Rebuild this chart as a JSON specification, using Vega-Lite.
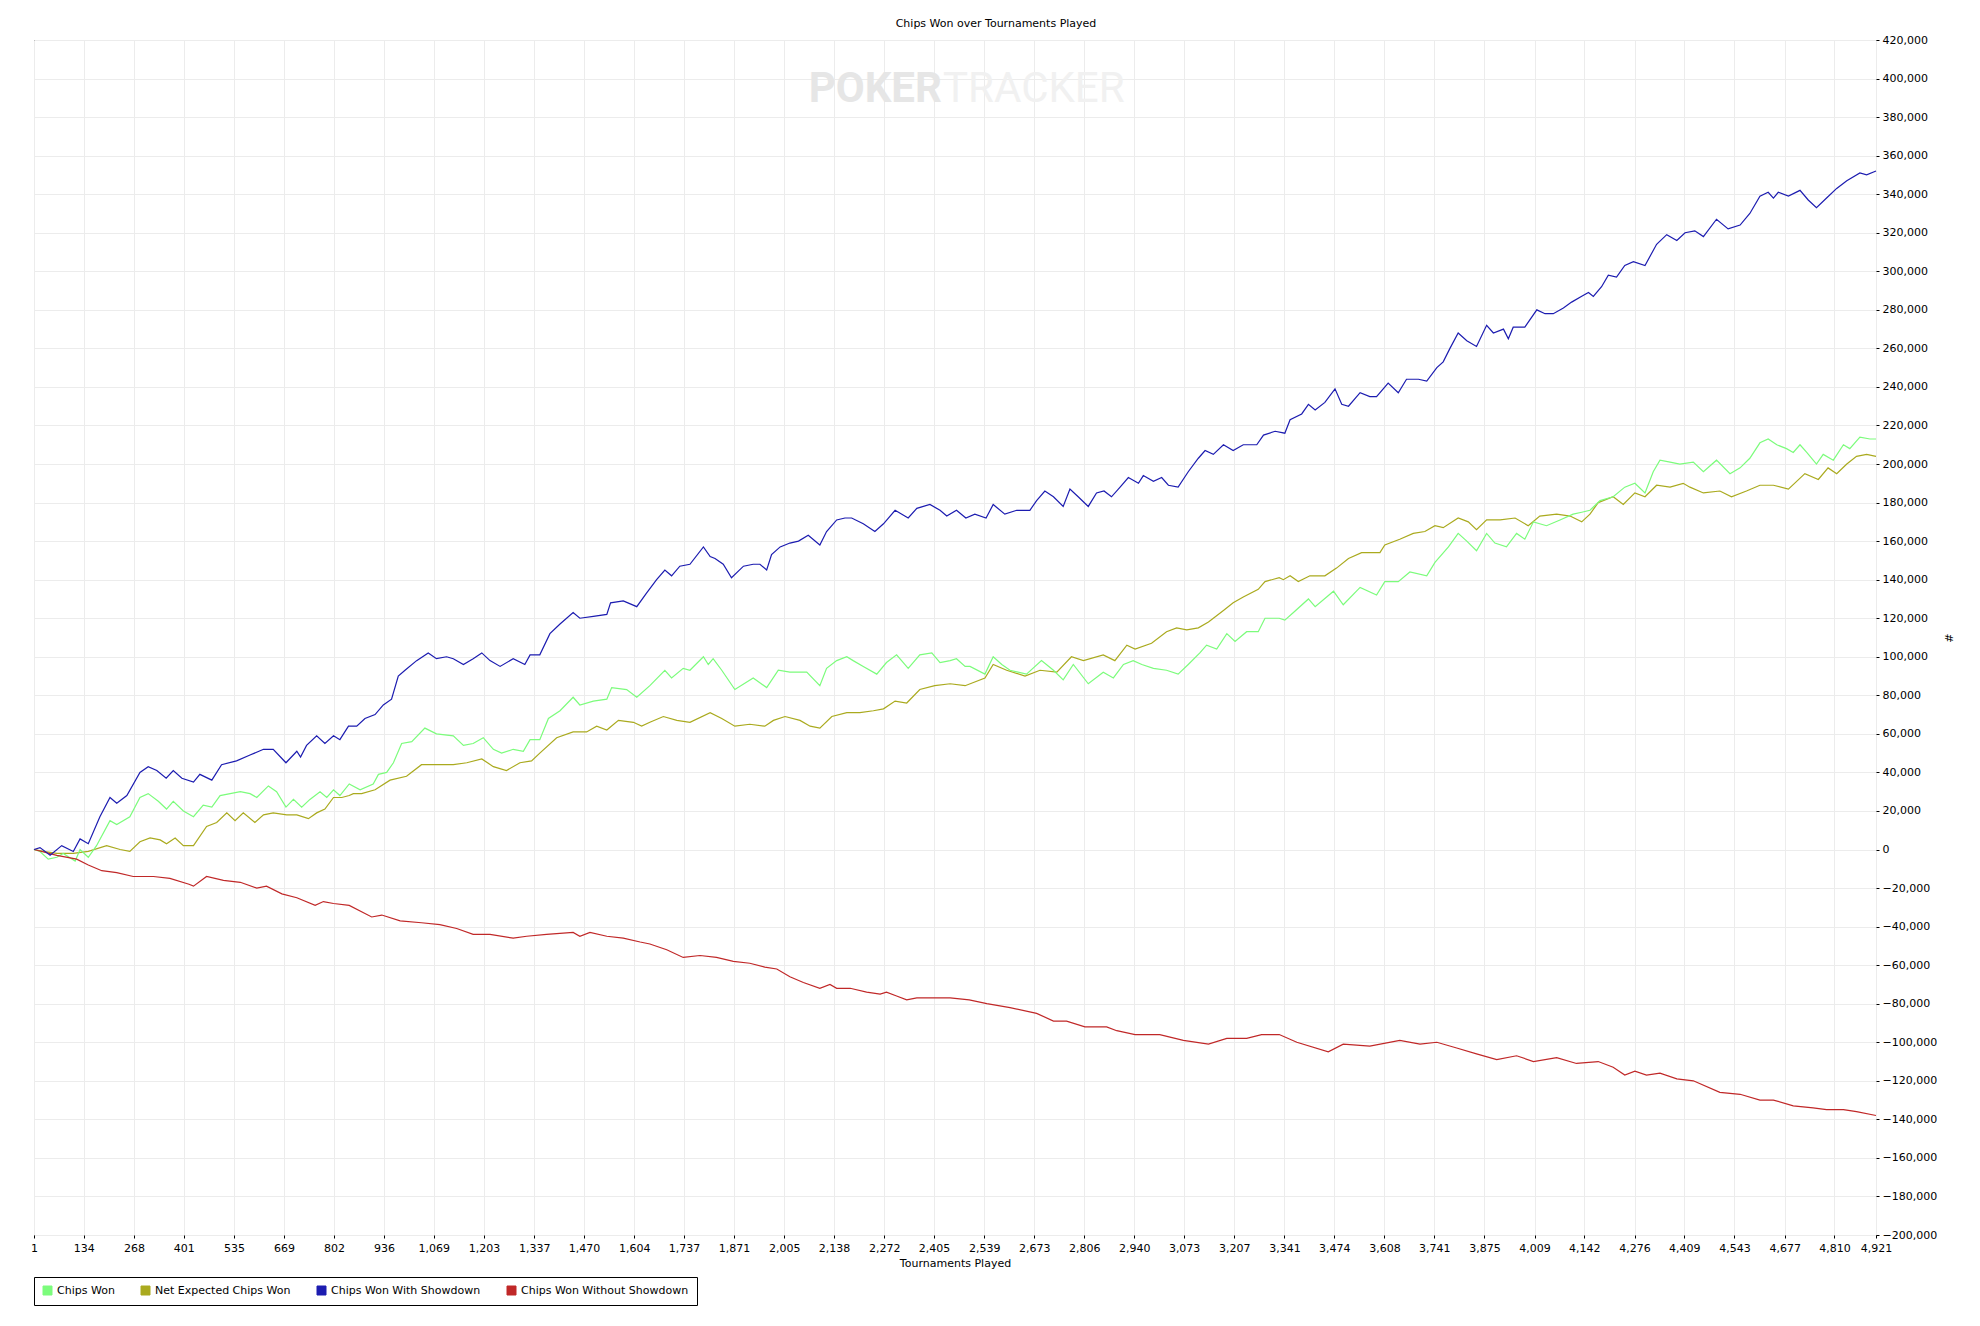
{
"$schema": "https://vega.github.io/schema/vega-lite/v6.json",
"width": 1842,
"height": 1195,
"autosize": {"type": "none"},
"padding": {"left": 34, "top": 40, "right": 104, "bottom": 91},
"background": "white",
"title": {"text": "Chips Won over Tournaments Played", "fontSize": 11, "font": "DejaVu Sans", "fontWeight": "normal", "color": "black", "offset": 5, "dx": 41},
"config": {"view": {"stroke": "black", "strokeWidth": 1}, "font": "DejaVu Sans"},
"encoding": {
 "x": {"field": "t", "type": "quantitative", "title": "Tournaments Played",
  "scale": {"domain": [1, 4921], "nice": false, "zero": false},
  "axis": {"values": [1,134,268,401,535,669,802,936,1069,1203,1337,1470,1604,1737,1871,2005,2138,2272,2405,2539,2673,2806,2940,3073,3207,3341,3474,3608,3741,3875,4009,4142,4276,4409,4543,4677,4810,4921],
   "format": ",d", "labelFontSize": 11, "labelColor": "black", "labelFont": "DejaVu Sans", "tickColor": "black", "tickSize": 3, "labelPadding": 4, "domain": false, "gridColor": "#ececec", "gridWidth": 1, "titleFontSize": 11, "titleFont": "DejaVu Sans", "titleFontWeight": "normal", "titleColor": "black", "titlePadding": 4, "labelFlush": false, "labelOverlap": false, "labelBound": false}},
 "y": {"field": "v", "type": "quantitative", "title": "#",
  "scale": {"domain": [-200000, 420000], "nice": false, "zero": false},
  "axis": {"orient": "right", "values": [-200000,-180000,-160000,-140000,-120000,-100000,-80000,-60000,-40000,-20000,0,20000,40000,60000,80000,100000,120000,140000,160000,180000,200000,220000,240000,260000,280000,300000,320000,340000,360000,380000,400000,420000],
   "format": ",d", "labelFontSize": 11, "labelColor": "black", "labelFont": "DejaVu Sans", "tickColor": "black", "tickSize": 3, "labelPadding": 3, "domain": false, "gridColor": "#ececec", "gridWidth": 1, "titleFontSize": 11, "titleFont": "DejaVu Sans", "titleFontWeight": "normal", "titleColor": "black", "titleAngle": 90, "titlePadding": 6, "labelFlush": false, "labelOverlap": false, "labelBound": false}}
},
"layer": [
 {"data": {"values": [{"t": 2426, "v": 394600, "label": "POKER"}]},
  "mark": {"type": "text", "align": "right", "baseline": "middle", "font": "Roboto", "fontWeight": "bold", "fontSize": 42, "color": "#e6e6e6"},
  "encoding": {"text": {"field": "label"}}},
 {"data": {"values": [{"t": 2429, "v": 394600, "label": "TRACKER"}]},
  "mark": {"type": "text", "align": "left", "baseline": "middle", "font": "Roboto", "fontWeight": "normal", "fontSize": 42, "color": "#f1f1f1"},
  "encoding": {"text": {"field": "label"}}},
 {"data": {"values": [{"v": 0}]},
  "mark": {"type": "rule", "color": "black", "strokeWidth": 1},
  "encoding": {"x": {"datum": 1}, "x2": {"datum": 4921}}},
 {"data": {"values": [{"t":1,"v":0},{"t":26,"v":-1000},{"t":62,"v":-2000},{"t":106,"v":-2000},{"t":146,"v":-1000},{"t":195,"v":2000},{"t":231,"v":0},{"t":257,"v":-1000},{"t":284,"v":4000},{"t":311,"v":6000},{"t":338,"v":5000},{"t":355,"v":3000},{"t":378,"v":6000},{"t":400,"v":2000},{"t":427,"v":2000},{"t":462,"v":12000},{"t":489,"v":14000},{"t":516,"v":19000},{"t":538,"v":15000},{"t":560,"v":19000},{"t":591,"v":14000},{"t":614,"v":18000},{"t":640,"v":19000},{"t":676,"v":18000},{"t":703,"v":18000},{"t":734,"v":16000},{"t":756,"v":19000},{"t":778,"v":21000},{"t":801,"v":27000},{"t":823,"v":27000},{"t":843,"v":28000},{"t":854,"v":29000},{"t":876,"v":29000},{"t":912,"v":31000},{"t":952,"v":36000},{"t":996,"v":38000},{"t":1036,"v":44000},{"t":1076,"v":44000},{"t":1121,"v":44000},{"t":1157,"v":45000},{"t":1197,"v":47000},{"t":1228,"v":43000},{"t":1263,"v":41000},{"t":1299,"v":45000},{"t":1330,"v":46000},{"t":1352,"v":50000},{"t":1397,"v":58000},{"t":1441,"v":61000},{"t":1477,"v":61000},{"t":1504,"v":64000},{"t":1531,"v":62000},{"t":1562,"v":67000},{"t":1602,"v":66000},{"t":1624,"v":64000},{"t":1646,"v":66000},{"t":1682,"v":69000},{"t":1718,"v":67000},{"t":1753,"v":66000},{"t":1807,"v":71000},{"t":1838,"v":68000},{"t":1873,"v":64000},{"t":1913,"v":65000},{"t":1953,"v":64000},{"t":1976,"v":67000},{"t":2007,"v":69000},{"t":2047,"v":67000},{"t":2074,"v":64000},{"t":2100,"v":63000},{"t":2132,"v":69000},{"t":2172,"v":71000},{"t":2207,"v":71000},{"t":2243,"v":72000},{"t":2270,"v":73000},{"t":2301,"v":77000},{"t":2332,"v":76000},{"t":2367,"v":83000},{"t":2407,"v":85000},{"t":2448,"v":86000},{"t":2488,"v":85000},{"t":2541,"v":89000},{"t":2563,"v":96000},{"t":2599,"v":93000},{"t":2648,"v":90000},{"t":2688,"v":93000},{"t":2733,"v":92000},{"t":2772,"v":100000},{"t":2804,"v":98000},{"t":2857,"v":101000},{"t":2888,"v":98000},{"t":2920,"v":106000},{"t":2942,"v":104000},{"t":2986,"v":107000},{"t":3026,"v":113000},{"t":3053,"v":115000},{"t":3080,"v":114000},{"t":3111,"v":115000},{"t":3138,"v":118000},{"t":3178,"v":124000},{"t":3204,"v":128000},{"t":3231,"v":131000},{"t":3271,"v":135000},{"t":3289,"v":139000},{"t":3327,"v":141000},{"t":3338,"v":140000},{"t":3356,"v":142000},{"t":3378,"v":139000},{"t":3409,"v":142000},{"t":3449,"v":142000},{"t":3480,"v":146000},{"t":3512,"v":151000},{"t":3547,"v":154000},{"t":3596,"v":154000},{"t":3609,"v":158000},{"t":3649,"v":161000},{"t":3685,"v":164000},{"t":3716,"v":165000},{"t":3743,"v":168000},{"t":3765,"v":167000},{"t":3805,"v":172000},{"t":3832,"v":170000},{"t":3854,"v":166000},{"t":3881,"v":171000},{"t":3917,"v":171000},{"t":3957,"v":172000},{"t":3992,"v":168000},{"t":4023,"v":173000},{"t":4068,"v":174000},{"t":4104,"v":173000},{"t":4135,"v":170000},{"t":4157,"v":174000},{"t":4179,"v":180000},{"t":4219,"v":183000},{"t":4246,"v":179000},{"t":4277,"v":185000},{"t":4304,"v":183000},{"t":4335,"v":189000},{"t":4371,"v":188000},{"t":4406,"v":190000},{"t":4424,"v":188000},{"t":4460,"v":185000},{"t":4504,"v":186000},{"t":4535,"v":183000},{"t":4575,"v":186000},{"t":4611,"v":189000},{"t":4647,"v":189000},{"t":4687,"v":187000},{"t":4731,"v":195000},{"t":4767,"v":192000},{"t":4793,"v":198000},{"t":4816,"v":195000},{"t":4843,"v":200000},{"t":4869,"v":204000},{"t":4896,"v":205000},{"t":4921,"v":204000}]},
  "mark": {"type": "line", "strokeWidth": 1.2},
  "encoding": {"color": {"datum": "Net Expected Chips Won", "type": "nominal",
   "scale": {"domain": ["Chips Won", "Net Expected Chips Won", "Chips Won With Showdown", "Chips Won Without Showdown"], "range": ["#7cfc7c", "#aaaa1e", "#1c1cb0", "#c02828"]},
   "legend": {"orient": "none", "legendX": 0, "legendY": 1237, "direction": "horizontal", "columns": 4, "title": null, "strokeColor": "black", "fillColor": "white", "padding": 8, "symbolType": "square", "symbolSize": 81, "symbolStrokeColor": "black", "symbolStrokeWidth": 1, "labelFontSize": 11, "labelFont": "DejaVu Sans", "labelColor": "black", "labelLimit": 400, "columnPadding": 24, "labelOffset": 4,
    "encode": {"symbols": {"update": {"fill": {"scale": "color", "field": "value"}, "stroke": {"value": "black"}, "strokeWidth": {"value": 1}, "opacity": {"value": 1}}}}}}}},
 {"data": {"values": [{"t":1,"v":0},{"t":17,"v":-1000},{"t":39,"v":-5000},{"t":62,"v":-4000},{"t":79,"v":-2000},{"t":111,"v":-6000},{"t":124,"v":0},{"t":146,"v":-4000},{"t":168,"v":2000},{"t":204,"v":15000},{"t":222,"v":13000},{"t":257,"v":17000},{"t":284,"v":27000},{"t":306,"v":29000},{"t":333,"v":25000},{"t":355,"v":21000},{"t":373,"v":25000},{"t":400,"v":20000},{"t":427,"v":17000},{"t":453,"v":23000},{"t":476,"v":22000},{"t":498,"v":28000},{"t":525,"v":29000},{"t":552,"v":30000},{"t":578,"v":29000},{"t":596,"v":27000},{"t":627,"v":33000},{"t":649,"v":30000},{"t":674,"v":22000},{"t":694,"v":26000},{"t":716,"v":22000},{"t":738,"v":26000},{"t":765,"v":30000},{"t":783,"v":27000},{"t":801,"v":31000},{"t":818,"v":28000},{"t":843,"v":34000},{"t":872,"v":31000},{"t":907,"v":34000},{"t":921,"v":39000},{"t":943,"v":40000},{"t":961,"v":45000},{"t":983,"v":55000},{"t":1010,"v":56000},{"t":1045,"v":63000},{"t":1076,"v":60000},{"t":1121,"v":59000},{"t":1148,"v":54000},{"t":1174,"v":55000},{"t":1201,"v":58000},{"t":1228,"v":52000},{"t":1250,"v":50000},{"t":1281,"v":52000},{"t":1308,"v":51000},{"t":1326,"v":57000},{"t":1352,"v":57000},{"t":1375,"v":68000},{"t":1406,"v":72000},{"t":1441,"v":79000},{"t":1459,"v":75000},{"t":1495,"v":77000},{"t":1531,"v":78000},{"t":1544,"v":84000},{"t":1584,"v":83000},{"t":1611,"v":79000},{"t":1646,"v":85000},{"t":1686,"v":93000},{"t":1704,"v":89000},{"t":1735,"v":94000},{"t":1753,"v":93000},{"t":1789,"v":100000},{"t":1802,"v":96000},{"t":1815,"v":99000},{"t":1838,"v":93000},{"t":1873,"v":83000},{"t":1922,"v":89000},{"t":1958,"v":84000},{"t":1989,"v":93000},{"t":2020,"v":92000},{"t":2065,"v":92000},{"t":2100,"v":85000},{"t":2118,"v":94000},{"t":2145,"v":98000},{"t":2172,"v":100000},{"t":2189,"v":98000},{"t":2216,"v":95000},{"t":2252,"v":91000},{"t":2278,"v":97000},{"t":2305,"v":101000},{"t":2336,"v":94000},{"t":2367,"v":101000},{"t":2399,"v":102000},{"t":2421,"v":97000},{"t":2448,"v":98000},{"t":2465,"v":99000},{"t":2488,"v":95000},{"t":2501,"v":95000},{"t":2541,"v":91000},{"t":2563,"v":100000},{"t":2586,"v":96000},{"t":2608,"v":93000},{"t":2652,"v":91000},{"t":2692,"v":98000},{"t":2724,"v":93000},{"t":2750,"v":88000},{"t":2777,"v":96000},{"t":2817,"v":86000},{"t":2857,"v":92000},{"t":2884,"v":89000},{"t":2911,"v":96000},{"t":2937,"v":98000},{"t":2960,"v":96000},{"t":2991,"v":94000},{"t":3026,"v":93000},{"t":3057,"v":91000},{"t":3084,"v":96000},{"t":3115,"v":102000},{"t":3133,"v":106000},{"t":3160,"v":104000},{"t":3187,"v":112000},{"t":3209,"v":108000},{"t":3240,"v":113000},{"t":3271,"v":113000},{"t":3289,"v":120000},{"t":3327,"v":120000},{"t":3342,"v":119000},{"t":3365,"v":123000},{"t":3405,"v":130000},{"t":3423,"v":126000},{"t":3472,"v":134000},{"t":3498,"v":127000},{"t":3543,"v":136000},{"t":3587,"v":132000},{"t":3609,"v":139000},{"t":3645,"v":139000},{"t":3676,"v":144000},{"t":3721,"v":142000},{"t":3743,"v":149000},{"t":3779,"v":157000},{"t":3805,"v":164000},{"t":3828,"v":160000},{"t":3854,"v":155000},{"t":3881,"v":164000},{"t":3903,"v":159000},{"t":3934,"v":157000},{"t":3961,"v":164000},{"t":3983,"v":161000},{"t":4006,"v":170000},{"t":4041,"v":168000},{"t":4077,"v":171000},{"t":4112,"v":174000},{"t":4135,"v":175000},{"t":4157,"v":176000},{"t":4184,"v":181000},{"t":4219,"v":183000},{"t":4250,"v":188000},{"t":4277,"v":190000},{"t":4304,"v":185000},{"t":4326,"v":196000},{"t":4344,"v":202000},{"t":4371,"v":201000},{"t":4397,"v":200000},{"t":4433,"v":201000},{"t":4460,"v":196000},{"t":4495,"v":202000},{"t":4531,"v":195000},{"t":4558,"v":198000},{"t":4584,"v":203000},{"t":4611,"v":211000},{"t":4633,"v":213000},{"t":4656,"v":210000},{"t":4682,"v":208000},{"t":4700,"v":206000},{"t":4718,"v":210000},{"t":4736,"v":206000},{"t":4762,"v":200000},{"t":4780,"v":205000},{"t":4807,"v":202000},{"t":4834,"v":210000},{"t":4851,"v":208000},{"t":4878,"v":214000},{"t":4905,"v":213000},{"t":4921,"v":213000}]},
  "mark": {"type": "line", "strokeWidth": 1.2},
  "encoding": {"color": {"datum": "Chips Won", "type": "nominal"}}},
 {"data": {"values": [{"t":1,"v":0},{"t":62,"v":-3000},{"t":115,"v":-5000},{"t":146,"v":-8000},{"t":182,"v":-11000},{"t":222,"v":-12000},{"t":266,"v":-14000},{"t":320,"v":-14000},{"t":364,"v":-15000},{"t":415,"v":-18000},{"t":427,"v":-19000},{"t":462,"v":-14000},{"t":507,"v":-16000},{"t":552,"v":-17000},{"t":596,"v":-20000},{"t":622,"v":-19000},{"t":663,"v":-23000},{"t":703,"v":-25000},{"t":752,"v":-29000},{"t":774,"v":-27000},{"t":801,"v":-28000},{"t":843,"v":-29000},{"t":903,"v":-35000},{"t":930,"v":-34000},{"t":979,"v":-37000},{"t":1036,"v":-38000},{"t":1085,"v":-39000},{"t":1130,"v":-41000},{"t":1174,"v":-44000},{"t":1219,"v":-44000},{"t":1281,"v":-46000},{"t":1317,"v":-45000},{"t":1370,"v":-44000},{"t":1441,"v":-43000},{"t":1459,"v":-45000},{"t":1486,"v":-43000},{"t":1531,"v":-45000},{"t":1575,"v":-46000},{"t":1620,"v":-48000},{"t":1646,"v":-49000},{"t":1691,"v":-52000},{"t":1735,"v":-56000},{"t":1780,"v":-55000},{"t":1824,"v":-56000},{"t":1869,"v":-58000},{"t":1913,"v":-59000},{"t":1953,"v":-61000},{"t":1985,"v":-62000},{"t":2020,"v":-66000},{"t":2056,"v":-69000},{"t":2100,"v":-72000},{"t":2127,"v":-70000},{"t":2145,"v":-72000},{"t":2181,"v":-72000},{"t":2225,"v":-74000},{"t":2261,"v":-75000},{"t":2278,"v":-74000},{"t":2305,"v":-76000},{"t":2332,"v":-78000},{"t":2359,"v":-77000},{"t":2403,"v":-77000},{"t":2448,"v":-77000},{"t":2499,"v":-78000},{"t":2546,"v":-80000},{"t":2608,"v":-82000},{"t":2679,"v":-85000},{"t":2724,"v":-89000},{"t":2759,"v":-89000},{"t":2808,"v":-92000},{"t":2866,"v":-92000},{"t":2893,"v":-94000},{"t":2942,"v":-96000},{"t":3008,"v":-96000},{"t":3071,"v":-99000},{"t":3138,"v":-101000},{"t":3187,"v":-98000},{"t":3240,"v":-98000},{"t":3280,"v":-96000},{"t":3327,"v":-96000},{"t":3374,"v":-100000},{"t":3458,"v":-105000},{"t":3498,"v":-101000},{"t":3569,"v":-102000},{"t":3649,"v":-99000},{"t":3703,"v":-101000},{"t":3748,"v":-100000},{"t":3801,"v":-103000},{"t":3854,"v":-106000},{"t":3908,"v":-109000},{"t":3961,"v":-107000},{"t":4006,"v":-110000},{"t":4068,"v":-108000},{"t":4121,"v":-111000},{"t":4179,"v":-110000},{"t":4219,"v":-113000},{"t":4250,"v":-117000},{"t":4277,"v":-115000},{"t":4308,"v":-117000},{"t":4344,"v":-116000},{"t":4389,"v":-119000},{"t":4433,"v":-120000},{"t":4504,"v":-126000},{"t":4558,"v":-127000},{"t":4611,"v":-130000},{"t":4647,"v":-130000},{"t":4700,"v":-133000},{"t":4753,"v":-134000},{"t":4789,"v":-135000},{"t":4834,"v":-135000},{"t":4869,"v":-136000},{"t":4921,"v":-138000}]},
  "mark": {"type": "line", "strokeWidth": 1.2},
  "encoding": {"color": {"datum": "Chips Won Without Showdown", "type": "nominal"}}},
 {"data": {"values": [{"t":1,"v":0},{"t":17,"v":1000},{"t":44,"v":-3000},{"t":75,"v":2000},{"t":106,"v":-1000},{"t":124,"v":5500},{"t":146,"v":3000},{"t":177,"v":17000},{"t":204,"v":27000},{"t":222,"v":24000},{"t":249,"v":28000},{"t":284,"v":40000},{"t":306,"v":43000},{"t":329,"v":41000},{"t":354,"v":37000},{"t":373,"v":41000},{"t":396,"v":37000},{"t":427,"v":35000},{"t":444,"v":39000},{"t":476,"v":36000},{"t":502,"v":44000},{"t":542,"v":46000},{"t":578,"v":49000},{"t":614,"v":52000},{"t":640,"v":52000},{"t":674,"v":45000},{"t":703,"v":51000},{"t":713,"v":48000},{"t":729,"v":54000},{"t":756,"v":59000},{"t":778,"v":55000},{"t":801,"v":59000},{"t":818,"v":57000},{"t":841,"v":64000},{"t":863,"v":64000},{"t":885,"v":68000},{"t":912,"v":70000},{"t":934,"v":75000},{"t":956,"v":78000},{"t":974,"v":90000},{"t":992,"v":93000},{"t":1023,"v":98000},{"t":1054,"v":102000},{"t":1076,"v":99000},{"t":1103,"v":100000},{"t":1121,"v":99000},{"t":1148,"v":96000},{"t":1174,"v":99000},{"t":1197,"v":102000},{"t":1219,"v":98000},{"t":1246,"v":95000},{"t":1281,"v":99000},{"t":1312,"v":96000},{"t":1326,"v":101000},{"t":1352,"v":101000},{"t":1379,"v":112000},{"t":1406,"v":117000},{"t":1441,"v":123000},{"t":1459,"v":120000},{"t":1495,"v":121000},{"t":1531,"v":122000},{"t":1541,"v":128000},{"t":1575,"v":129000},{"t":1611,"v":126000},{"t":1637,"v":133000},{"t":1664,"v":140000},{"t":1686,"v":145000},{"t":1704,"v":142000},{"t":1726,"v":147000},{"t":1753,"v":148000},{"t":1789,"v":157000},{"t":1807,"v":152000},{"t":1820,"v":151000},{"t":1842,"v":148000},{"t":1864,"v":141000},{"t":1896,"v":147000},{"t":1922,"v":148000},{"t":1940,"v":148000},{"t":1958,"v":145000},{"t":1971,"v":153000},{"t":1994,"v":157000},{"t":2020,"v":159000},{"t":2043,"v":160000},{"t":2069,"v":163000},{"t":2100,"v":158000},{"t":2118,"v":165000},{"t":2145,"v":171000},{"t":2167,"v":172000},{"t":2185,"v":172000},{"t":2216,"v":169000},{"t":2247,"v":165000},{"t":2270,"v":169000},{"t":2301,"v":176000},{"t":2336,"v":172000},{"t":2359,"v":177000},{"t":2394,"v":179000},{"t":2421,"v":176000},{"t":2439,"v":173000},{"t":2465,"v":176000},{"t":2490,"v":172000},{"t":2514,"v":174000},{"t":2544,"v":172000},{"t":2563,"v":179000},{"t":2594,"v":174000},{"t":2626,"v":176000},{"t":2661,"v":176000},{"t":2679,"v":181000},{"t":2701,"v":186000},{"t":2724,"v":183000},{"t":2750,"v":178000},{"t":2768,"v":187000},{"t":2790,"v":183000},{"t":2817,"v":178000},{"t":2839,"v":185000},{"t":2859,"v":186000},{"t":2879,"v":183000},{"t":2902,"v":188000},{"t":2924,"v":193000},{"t":2951,"v":190000},{"t":2964,"v":194000},{"t":2991,"v":191000},{"t":3013,"v":193000},{"t":3031,"v":189000},{"t":3057,"v":188000},{"t":3084,"v":196000},{"t":3111,"v":203000},{"t":3129,"v":207000},{"t":3151,"v":205000},{"t":3178,"v":210000},{"t":3204,"v":207000},{"t":3231,"v":210000},{"t":3267,"v":210000},{"t":3285,"v":215000},{"t":3316,"v":217000},{"t":3342,"v":216000},{"t":3356,"v":223000},{"t":3387,"v":226000},{"t":3405,"v":231000},{"t":3423,"v":228000},{"t":3449,"v":232000},{"t":3476,"v":239000},{"t":3494,"v":231000},{"t":3512,"v":230000},{"t":3543,"v":237000},{"t":3569,"v":235000},{"t":3587,"v":235000},{"t":3618,"v":242000},{"t":3645,"v":237000},{"t":3667,"v":244000},{"t":3699,"v":244000},{"t":3721,"v":243000},{"t":3748,"v":250000},{"t":3765,"v":253000},{"t":3783,"v":260000},{"t":3805,"v":268000},{"t":3828,"v":264000},{"t":3854,"v":261000},{"t":3881,"v":272000},{"t":3899,"v":268000},{"t":3926,"v":270000},{"t":3939,"v":265000},{"t":3952,"v":271000},{"t":3983,"v":271000},{"t":4015,"v":280000},{"t":4037,"v":278000},{"t":4059,"v":278000},{"t":4086,"v":281000},{"t":4108,"v":284000},{"t":4135,"v":287000},{"t":4153,"v":289000},{"t":4166,"v":287000},{"t":4188,"v":292000},{"t":4206,"v":298000},{"t":4228,"v":297000},{"t":4250,"v":303000},{"t":4273,"v":305000},{"t":4304,"v":303000},{"t":4335,"v":314000},{"t":4362,"v":319000},{"t":4389,"v":316000},{"t":4411,"v":320000},{"t":4437,"v":321000},{"t":4460,"v":318000},{"t":4495,"v":327000},{"t":4526,"v":322000},{"t":4558,"v":324000},{"t":4584,"v":330000},{"t":4611,"v":339000},{"t":4633,"v":341000},{"t":4647,"v":338000},{"t":4660,"v":341000},{"t":4687,"v":339000},{"t":4718,"v":342000},{"t":4740,"v":337000},{"t":4762,"v":333000},{"t":4789,"v":338000},{"t":4816,"v":343000},{"t":4843,"v":347000},{"t":4878,"v":351000},{"t":4896,"v":350000},{"t":4921,"v":352000}]},
  "mark": {"type": "line", "strokeWidth": 1.2},
  "encoding": {"color": {"datum": "Chips Won With Showdown", "type": "nominal"}}}
]
}
